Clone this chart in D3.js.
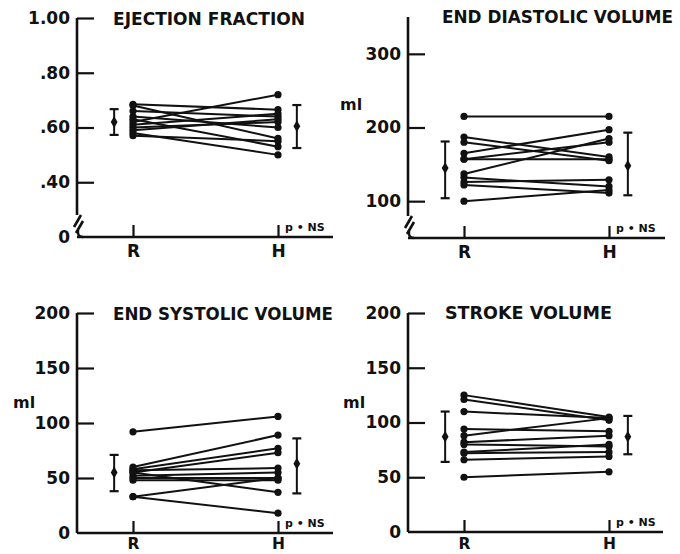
<!DOCTYPE html>
<html><head><meta charset="utf-8">
<script src="https://cdn.jsdelivr.net/npm/d3@7"></script>
<style>body{margin:0;background:#fff}svg{display:block}text{font-family:"DejaVu Sans",sans-serif;font-weight:bold;fill:#111}</style>
</head><body><svg id="c" width="680" height="554"></svg>
<script>
const groups = ["R", "H"];

// Ejection fraction (paired subjects R -> H)
const efR = [0.62, 0.685, 0.68, 0.66, 0.64, 0.63, 0.61, 0.60, 0.58, 0.59, 0.57];
const efH = [0.72, 0.665, 0.56, 0.64, 0.60, 0.53, 0.65, 0.62, 0.50, 0.63, 0.55];
const efMean = [0.62, 0.605], efLo = [0.573, 0.525], efHi = [0.667, 0.682];
const efTicks = [0.2, 0.4, 0.6, 0.8, 1.0];
const efTickLabels = ["0", ".40", ".60", ".80", "1.00"];

// End diastolic volume (ml)
const edvR = [215, 187, 180, 165, 157, 157, 137, 132, 126, 122, 100];
const edvH = [215, 160, 155, 197, 180, 157, 185, 120, 129, 111, 115];
const edvMean = [145, 148], edvLo = [104, 108], edvHi = [181, 193];
const edvTicks = [100, 200, 300];
const edvTickLabels = ["100", "200", "300"];

// End systolic volume (ml)
const esvR = [92, 60, 58, 55, 57, 52, 50, 48, 55, 33, 33];
const esvH = [106, 89, 77, 73, 59, 55, 50, 48, 37, 50, 18];
const esvMean = [55, 63], esvLo = [38, 36], esvHi = [71, 86];
const esvTicks = [0, 50, 100, 150, 200];
const esvTickLabels = ["0", "50", "100", "150", "200"];

// Stroke volume (ml)
const svR = [125, 121, 110, 94, 88, 82, 80, 73, 72, 66, 50];
const svH = [105, 102, 104, 92, 104, 88, 78, 80, 73, 69, 55];
const svMean = [87, 87], svLo = [64, 71], svHi = [110, 106];
const svTicks = [0, 50, 100, 150, 200];
const svTickLabels = ["0", "50", "100", "150", "200"];

const svg = d3.select("#c");

const panels = [
  {title:"EJECTION FRACTION", r:efR, h:efH, mean:efMean, lo:efLo, hi:efHi, ticks:efTicks, labels:efTickLabels,
   domain:[0.2,1.0], ax:77, top:18, base:237, right:333, brk:true, ml:false,
   tx:113, ty:25, tw:192, xfs:17, xpad:8},
  {title:"END DIASTOLIC VOLUME", r:edvR, h:edvH, mean:edvMean, lo:edvLo, hi:edvHi, ticks:edvTicks, labels:edvTickLabels,
   domain:[50,350], ax:408, top:17, base:238, right:665, brk:true, ml:true, mlx:340, mly:110,
   tx:442, ty:23, tw:231, xfs:17, xpad:8},
  {title:"END SYSTOLIC VOLUME", r:esvR, h:esvH, mean:esvMean, lo:esvLo, hi:esvHi, ticks:esvTicks, labels:esvTickLabels,
   domain:[0,200], ax:77, top:313, base:533, right:333, brk:false, ml:true, mlx:13, mly:408,
   tx:113, ty:320, tw:220, xfs:15.5, xpad:5},
  {title:"STROKE VOLUME", r:svR, h:svH, mean:svMean, lo:svLo, hi:svHi, ticks:svTicks, labels:svTickLabels,
   domain:[0,200], ax:408, top:313, base:532, right:663, brk:false, ml:true, mlx:343, mly:408,
   tx:445, ty:319, tw:167, xfs:15.5, xpad:6}
];

panels.forEach(p => {
  const g = svg.append("g");
  const y = d3.scaleLinear().domain(p.domain).range([p.base, p.top]);
  const x = d3.scaleLinear().domain([0, 1]).range([p.ax + 56, p.ax + 201]);
  const xg = d3.scalePoint().domain(groups).range([x(0), x(1)]);

  // y axis ticks & labels
  const yAxis = d3.axisLeft(y).tickValues(p.ticks)
    .tickFormat((d, i) => p.labels[i]).tickSize(-17).tickPadding(7).tickSizeOuter(0);
  const ya = g.append("g").attr("transform", `translate(${p.ax},0)`).call(yAxis);
  ya.select(".domain").remove();
  ya.selectAll("line").attr("stroke", "#111").attr("stroke-width", 2.2);
  ya.selectAll("text").style("font-size", "17px").attr("fill", "#111");
  ya.selectAll(".tick").filter(d => d === p.domain[0]).select("line").remove();

  // y axis line (with break)
  const axStyle = s => s.attr("stroke", "#111").attr("stroke-width", 2.6).attr("fill", "none");
  if (p.brk) {
    g.append("line").attr("x1", p.ax).attr("x2", p.ax).attr("y1", p.top).attr("y2", p.base - 22).call(axStyle);
    g.append("line").attr("x1", p.ax - 3).attr("y1", p.base - 10).attr("x2", p.ax + 4).attr("y2", p.base - 22).call(axStyle);
    g.append("line").attr("x1", p.ax - 1).attr("y1", p.base - 4).attr("x2", p.ax + 6).attr("y2", p.base - 16).call(axStyle);
    g.append("path").attr("d", `M${p.ax + 1},${p.base - 7} Q${p.ax},${p.base} ${p.ax + 6},${p.base}`).call(axStyle);
  } else {
    g.append("line").attr("x1", p.ax).attr("x2", p.ax).attr("y1", p.top).attr("y2", p.base).call(axStyle);
  }
  // x axis
  g.append("line").attr("x1", p.ax).attr("x2", p.right).attr("y1", p.base).attr("y2", p.base).call(axStyle);
  const xAxis = d3.axisBottom(xg).tickSize(-12).tickPadding(p.xpad).tickSizeOuter(0);
  const xa = g.append("g").attr("transform", `translate(0,${p.base})`).call(xAxis);
  xa.select(".domain").remove();
  xa.selectAll("line").attr("stroke", "#111").attr("stroke-width", 2.2);
  xa.selectAll("text").style("font-size", p.xfs + "px").attr("fill", "#111");

  // p = NS
  g.append("text").attr("x", x(1) + 7).attr("y", p.base - 6).style("font-size", "11px").text("p • NS");

  // title
  g.append("text").attr("x", p.tx).attr("y", p.ty).style("font-size", "17px")
    .attr("textLength", p.tw).attr("lengthAdjust", "spacingAndGlyphs").text(p.title);
  if (p.ml) g.append("text").attr("x", p.mlx).attr("y", p.mly).style("font-size", "16px").text("ml");

  // paired lines
  const pairs = p.r.map((v, i) => [v, p.h[i]]);
  const line = d3.line().x((d, i) => x(i)).y(d => y(d));
  g.selectAll(".pl").data(pairs).join("path").attr("class", "pl")
    .attr("d", d => line(d)).attr("stroke", "#111").attr("stroke-width", 2).attr("fill", "none");
  g.selectAll(".dr").data(p.r).join("circle").attr("class", "dr")
    .attr("cx", x(0)).attr("cy", d => y(d)).attr("r", 3.6).attr("fill", "#111");
  g.selectAll(".dh").data(p.h).join("circle").attr("class", "dh")
    .attr("cx", x(1)).attr("cy", d => y(d)).attr("r", 3.6).attr("fill", "#111");

  // mean +/- SD bars
  [-0.13, 1.13].forEach((pos, i) => {
    const cx = x(pos);
    g.append("line").attr("x1", cx).attr("x2", cx).attr("y1", y(p.lo[i])).attr("y2", y(p.hi[i]))
      .attr("stroke", "#111").attr("stroke-width", 2);
    [p.lo[i], p.hi[i]].forEach(v => g.append("line").attr("x1", cx - 4.5).attr("x2", cx + 4.5)
      .attr("y1", y(v)).attr("y2", y(v)).attr("stroke", "#111").attr("stroke-width", 2.2));
    g.append("path").attr("d", d3.symbol(d3.symbolDiamond, 40)())
      .attr("transform", `translate(${cx},${y(p.mean[i])})`).attr("fill", "#111");
  });
});
</script></body></html>
